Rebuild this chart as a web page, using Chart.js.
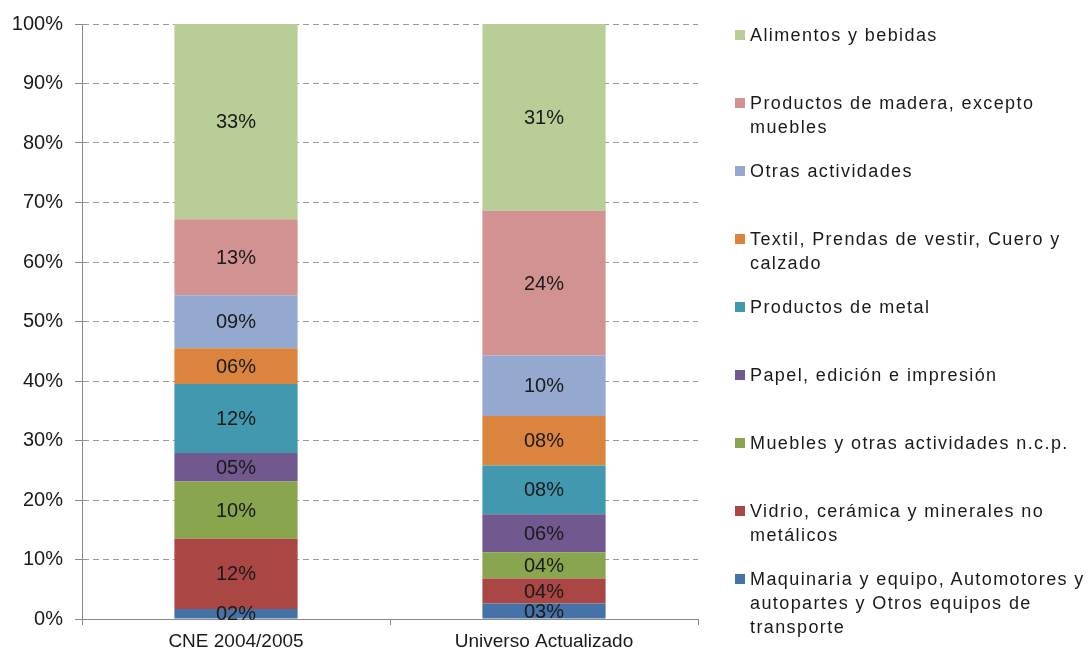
<!DOCTYPE html>
<html>
<head>
<meta charset="utf-8">
<script src="https://cdn.jsdelivr.net/npm/chart.js@4/dist/chart.umd.min.js"></script>
<style>
  html, body { margin: 0; padding: 0; background: #fff; }
  #wrap { position: relative; width: 1092px; height: 652px; overflow: hidden; }
  #legend { position: absolute; left: 0; top: 0; }
  .item { position: absolute; left: 735px; font-family: "Liberation Sans", Arial, sans-serif;
          font-size: 18px; letter-spacing: 1.4px; line-height: 24px; color: #1a1a1a; white-space: pre; }
  .box { position: absolute; left: 0; top: 7px; width: 10px; height: 10px; }
  .txt { margin-left: 15px; }
</style>
</head>
<body>
<div id="wrap">
  <canvas id="chart"></canvas>
  <div id="legend"></div>
</div>
<script>
document.addEventListener('DOMContentLoaded', function () {

    // ================= DATA =================
    const categories = ['CNE 2004/2005', 'Universo Actualizado'];

    // bottom to top of the stack
    const maquinaria = [1.7, 2.6];
    const vidrio     = [11.8, 4.2];
    const muebles    = [9.6, 4.4];
    const papel      = [4.8, 6.4];
    const metal      = [11.6, 8.2];
    const textil     = [6.0, 8.3];
    const otras      = [8.9, 10.2];
    const madera     = [12.8, 24.3];
    const alimentos  = [32.8, 31.4];

    const seriesNames = [
        'Maquinaria y equipo, Automotores y\nautopartes y Otros equipos de\ntransporte',
        'Vidrio, cerámica y minerales no\nmetálicos',
        'Muebles y otras actividades n.c.p.',
        'Papel, edición e impresión',
        'Productos de metal',
        'Textil, Prendas de vestir, Cuero y\ncalzado',
        'Otras actividades',
        'Productos de madera, excepto\nmuebles',
        'Alimentos y bebidas'
    ];
    const seriesValues = [maquinaria, vidrio, muebles, papel, metal, textil, otras, madera, alimentos];
    const seriesColors = ['#4572a7', '#aa4643', '#89a54e', '#71588f', '#4198af',
                          '#db843d', '#95a9d0', '#d29292', '#b9cd96'];

    const yTicks = [0, 10, 20, 30, 40, 50, 60, 70, 80, 90, 100];

    // ================= VALUE LABELS PLUGIN =================
    const valueLabels = {
        id: 'valueLabels',
        afterDatasetsDraw(chart) {
            const ctx = chart.ctx;
            ctx.save();
            ctx.font = '20px "Liberation Sans", Arial, sans-serif';
            ctx.fillStyle = '#1a1a1a';
            ctx.textAlign = 'center';
            ctx.textBaseline = 'middle';
            chart.data.datasets.forEach((ds, i) => {
                chart.getDatasetMeta(i).data.forEach((bar, j) => {
                    const v = Math.round(ds.data[j]);
                    const txt = (v < 10 ? '0' + v : v) + '%';
                    ctx.fillText(txt, bar.x, (bar.y + bar.base) / 2 + 1);
                });
            });
            ctx.restore();
        }
    };

    // ================= CHART =================
    new Chart(document.getElementById('chart'), {
        type: 'bar',
        data: {
            labels: categories,
            datasets: seriesValues.map((vals, i) => ({
                label: seriesNames[i].replace(/\n/g, ' '),
                data: vals,
                backgroundColor: seriesColors[i],
                borderWidth: 0,
                categoryPercentage: 1,
                barPercentage: 0.4
            }))
        },
        options: {
            responsive: true,
            maintainAspectRatio: false,
            animation: false,
            layout: {
                padding: { left: 0, right: 394, top: 24, bottom: 0 }
            },
            plugins: {
                legend: { display: false },
                tooltip: { enabled: false }
            },
            scales: {
                x: {
                    stacked: true,
                    afterFit: s => { s.height = 33; },
                    grid: {
                        drawOnChartArea: false,
                        drawTicks: true,
                        tickLength: 6,
                        color: '#888'
                    },
                    border: { color: '#888', width: 1 },
                    ticks: {
                        color: '#1a1a1a',
                        padding: 5,
                        font: { family: '"Liberation Sans", Arial, sans-serif', size: 19 }
                    }
                },
                y: {
                    stacked: true,
                    min: 0,
                    max: 100,
                    afterFit: s => { s.width = 82; },
                    afterBuildTicks: s => { s.ticks = yTicks.map(v => ({ value: v })); },
                    grid: {
                        color: '#9a9a9a',
                        tickColor: '#888',
                        tickLength: 7,
                        tickBorderDash: []
                    },
                    border: { color: '#888', width: 1, dash: [6, 4] },
                    ticks: {
                        color: '#1a1a1a',
                        padding: 12,
                        font: { family: '"Liberation Sans", Arial, sans-serif', size: 20 },
                        callback: v => v + '%'
                    }
                }
            }
        },
        plugins: [valueLabels]
    });

    // ================= LEGEND (top item = top of stack) =================
    const legend = document.getElementById('legend');
    for (let k = 0; k < seriesNames.length; k++) {
        const i = seriesNames.length - 1 - k;
        const item = document.createElement('div');
        item.className = 'item';
        item.style.top = (23 + k * 68) + 'px';
        item.innerHTML = '<span class="box" style="background:' + seriesColors[i] + '"></span>' +
                         '<div class="txt"></div>';
        item.querySelector('.txt').textContent = seriesNames[i];
        legend.appendChild(item);
    }
});
</script>
</body>
</html>
